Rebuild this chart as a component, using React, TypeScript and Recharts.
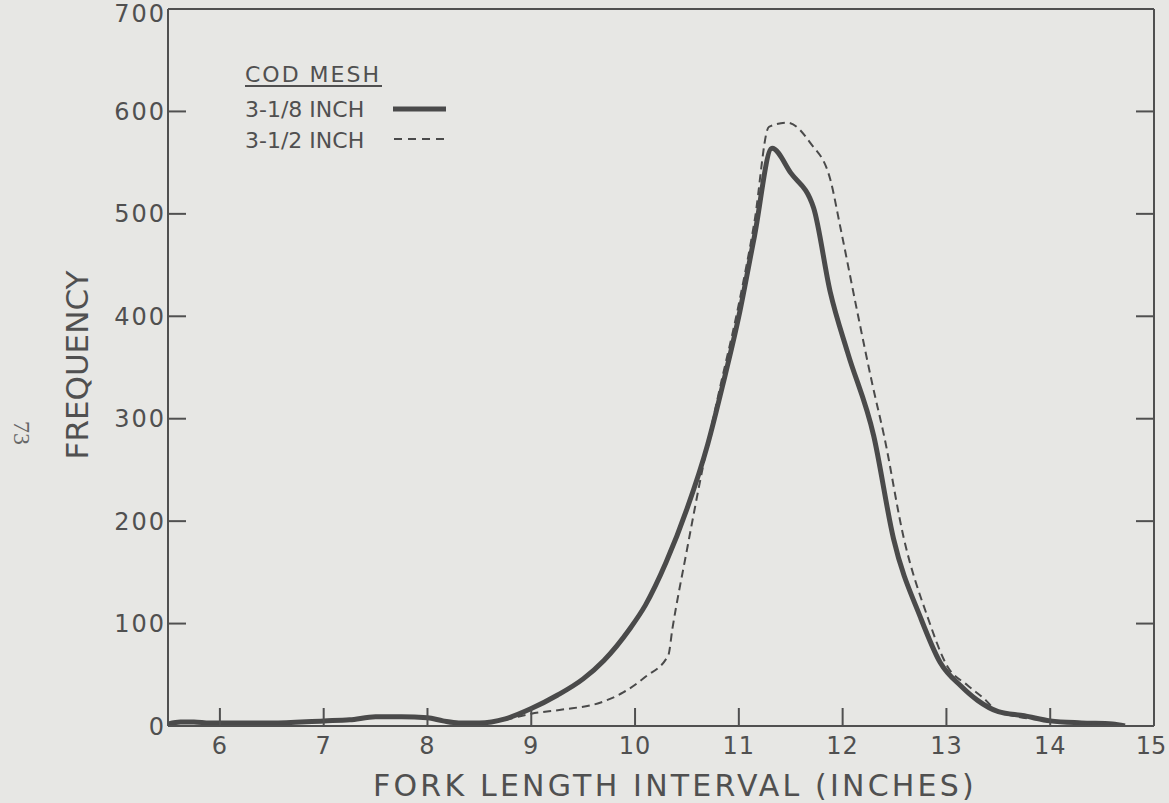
import React from "react";
import { Legend, Line, LineChart, XAxis, YAxis } from "recharts";

// fork length (inches) and frequency
const mesh318Length = [
  5.5, 5.62, 5.75, 5.9, 6.0, 6.5, 7.0, 7.25, 7.5, 7.75, 8.0, 8.15, 8.3, 8.5,
  8.75, 9.0, 9.25, 9.5, 9.7, 9.95, 10.1, 10.3, 10.5, 10.7, 10.85, 11.0, 11.15,
  11.32, 11.5, 11.72, 11.88, 12.05, 12.3, 12.49, 12.75, 12.94, 13.14, 13.3,
  13.5, 13.75, 14.0, 14.3, 14.6, 14.72
];
const mesh318Freq = [
  2, 4, 4, 3, 3, 3, 5, 6, 9, 9, 8, 5, 3, 3, 7, 17, 30, 46, 64, 95, 118, 160,
  212, 275, 335, 400, 478, 564, 540, 506, 424, 364, 283, 183, 106, 62, 39, 25,
  14, 10, 5, 3, 2, 0
];

// 3-1/2 inch cod mesh curve
const mesh312Length = [
  8.5, 8.75, 9.0, 9.3, 9.67, 9.89, 10.1, 10.32, 10.36, 10.5, 10.66, 10.8, 11.0,
  11.15, 11.29, 11.47, 11.69, 11.88, 11.98, 12.14, 12.29, 12.4, 12.59, 12.82,
  13.01, 13.2, 13.36, 13.5, 14.0, 14.3, 14.6
];
const mesh312Freq = [
  2, 6, 12, 16, 23, 33, 48, 69, 95, 172, 256, 322, 412, 492, 585, 589, 569,
  534, 486, 405, 332, 283, 183, 106, 58, 40, 27, 14, 5, 3, 1
];

const lengthTicks = [6, 7, 8, 9, 10, 11, 12, 13, 14, 15];
const innerLengthTicks = [6, 7, 8, 9, 10, 11, 12, 13, 14];
const frequencyTicks = [0, 100, 200, 300, 400, 500, 600, 700];
const innerFrequencyTicks = [100, 200, 300, 400, 500, 600];

const small318 = mesh318Length.map((length, i) => ({ length, freq: mesh318Freq[i] }));
const large312 = mesh312Length.map((length, i) => ({ length, freq: mesh312Freq[i] }));

const ink = "#4a4a4a";
const textInk = "#505050";
const paper = "#e7e7e4";
const font = "'DejaVu Sans', sans-serif";
const tickLen = 18;

// ticks are drawn pointing into the plot, like the original frame
function BottomTick({ x, y, payload }: any) {
  const last = payload.value === 15;
  return (
    <g>
      {!last && <line x1={x} x2={x} y1={y} y2={y - tickLen} stroke={textInk} strokeWidth={2} />}
      <text
        x={last ? x - 3 : x}
        y={y + 11}
        dy="0.71em"
        textAnchor="middle"
        fill={textInk}
        fontFamily={font}
        fontSize={24}
        letterSpacing={last ? 0 : 1}
      >
        {payload.value}
      </text>
    </g>
  );
}

function LeftTick({ x, y, payload }: any) {
  const inner = payload.value > 0 && payload.value < 700;
  const top = payload.value === 700;
  return (
    <g>
      {inner && <line x1={x} x2={x + tickLen} y1={y} y2={y} stroke={textInk} strokeWidth={2} />}
      <text
        x={x - 2}
        y={top ? y + 4 : y}
        dy="0.36em"
        textAnchor="end"
        fill={textInk}
        fontFamily={font}
        fontSize={24}
        letterSpacing={2}
      >
        {payload.value}
      </text>
    </g>
  );
}

function TopTick({ x, y }: any) {
  return <line x1={x} x2={x} y1={y} y2={y + tickLen} stroke={textInk} strokeWidth={2} />;
}

function RightTick({ x, y }: any) {
  return <line x1={x} x2={x - tickLen} y1={y} y2={y} stroke={textInk} strokeWidth={2} />;
}

function MeshLegend() {
  return (
    <svg width={220} height={100} style={{ overflow: "visible", display: "block" }}>
      <g fill={textInk} fontFamily={font} fontSize={22}>
        <text x={0} y={21} letterSpacing={2}>COD MESH</text>
        <line x1={0} x2={137} y1={25} y2={25} stroke={textInk} strokeWidth={2} />
        <text x={0} y={56}>3-1/8 INCH</text>
        <text x={0} y={87}>3-1/2 INCH</text>
      </g>
      <line x1={148} x2={201} y1={48} y2={48} stroke={ink} strokeWidth={5} />
      <line x1={149} x2={201} y1={78} y2={78} stroke={ink} strokeWidth={2} strokeDasharray="8 6" />
    </svg>
  );
}

export default function App() {
  const frame = { stroke: textInk, strokeWidth: 2 };
  return (
    <div
      style={{
        position: "absolute",
        left: 0,
        top: 0,
        width: 1169,
        height: 803,
        background: paper,
        overflow: "hidden"
      }}
    >
      <div
        style={{
          position: "absolute",
          left: 21,
          top: 433,
          transform: "translate(-50%, -50%) rotate(90deg)",
          fontFamily: "'Liberation Serif', serif",
          fontSize: 24,
          color: "#666"
        }}
      >
        73
      </div>
      <LineChart
        width={1169}
        height={803}
        margin={{ top: 8, right: 14, bottom: 0, left: 0 }}
        style={{ position: "absolute", left: 0, top: 0 }}
      >
        <XAxis
          dataKey="length"
          type="number"
          domain={[5.5, 15]}
          allowDataOverflow
          ticks={lengthTicks}
          height={77}
          axisLine={frame}
          tickLine={false}
          tickSize={0}
          tickMargin={0}
          tick={BottomTick}
          label={{
            content: () => (
              <text
                x={675}
                y={796}
                textAnchor="middle"
                fill={textInk}
                fontFamily={font}
                fontSize={30}
                letterSpacing={3.2}
              >
                FORK LENGTH INTERVAL (INCHES)
              </text>
            )
          }}
        />
        <XAxis
          xAxisId="top"
          orientation="top"
          type="number"
          domain={[5.5, 15]}
          allowDataOverflow
          ticks={innerLengthTicks}
          height={1}
          axisLine={frame}
          tickLine={false}
          tickSize={0}
          tickMargin={0}
          tick={TopTick}
        />
        <YAxis
          type="number"
          domain={[0, 700]}
          allowDataOverflow
          ticks={frequencyTicks}
          width={168}
          axisLine={frame}
          tickLine={false}
          tickSize={0}
          tickMargin={0}
          tick={LeftTick}
          label={{
            content: () => (
              <text
                x={77}
                y={365}
                transform="rotate(-90 77 365)"
                textAnchor="middle"
                dominantBaseline="central"
                fill={textInk}
                fontFamily={font}
                fontSize={31}
              >
                FREQUENCY
              </text>
            )
          }}
        />
        <YAxis
          yAxisId="right"
          orientation="right"
          type="number"
          domain={[0, 700]}
          allowDataOverflow
          ticks={innerFrequencyTicks}
          width={1}
          axisLine={frame}
          tickLine={false}
          tickSize={0}
          tickMargin={0}
          tick={RightTick}
        />
        <Legend
          layout="vertical"
          align="center"
          verticalAlign="middle"
          content={() => <MeshLegend />}
          wrapperStyle={{ left: 245, top: 61, width: 220 }}
        />
        <Line
          data={small318}
          dataKey="freq"
          name="3-1/8 INCH"
          type="monotone"
          stroke={ink}
          strokeWidth={5}
          strokeLinejoin="round"
          dot={false}
          isAnimationActive={false}
        />
        <Line
          data={large312}
          dataKey="freq"
          name="3-1/2 INCH"
          type="monotone"
          stroke={ink}
          strokeWidth={2}
          strokeDasharray="8 5"
          dot={false}
          isAnimationActive={false}
        />
      </LineChart>
    </div>
  );
}
